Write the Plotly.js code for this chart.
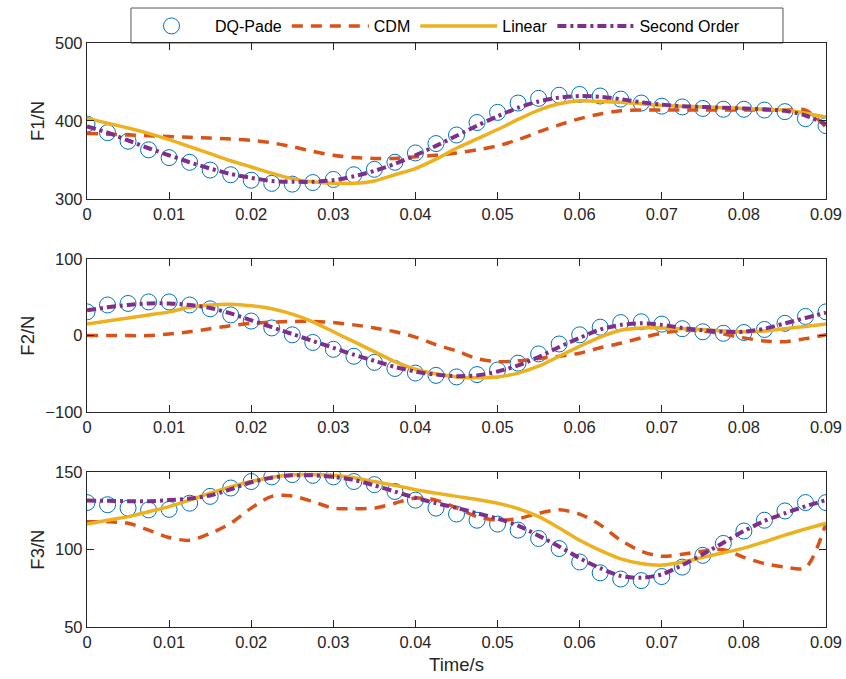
<!DOCTYPE html>
<html>
<head>
<meta charset="utf-8">
<script src="https://cdn.plot.ly/plotly-3.0.1.min.js"></script>
<style>html,body{margin:0;padding:0;background:#fff;}#chart{width:846px;height:679px;}</style>
</head>
<body>
<div id="chart"></div>
<script>
// Time samples (s)
const time = [0,0.0025,0.005,0.0075,0.01,0.0125,0.015,0.0175,0.02,0.0225,0.025,0.0275,0.03,0.0325,0.035,0.0375,0.04,0.0425,0.045,0.0475,0.05,0.0525,0.055,0.0575,0.06,0.0625,0.065,0.0675,0.07,0.0725,0.075,0.0775,0.08,0.0825,0.085,0.0875,0.09];

const seriesNames = ['DQ-Pade','CDM','Linear','Second Order'];

// F1/N
const f1DQ     = [396,385,374,363,353,347,337,331,324,320,319,321,325,331,338,347,359,371,382,398,411,423,429,433,434,432,428,423,419,418,416,415,415,414,412,403,394];
const f1CDM    = [384,383,382,381,380,379,378,377,375,372,367,361,356,353,352,352,354,356,359,363,368,376,386,395,403,409,413,414,414,414,414,414,414,414,414,414,392];
const f1Linear = [404,397,391,384,376,367,358,349,341,333,326,322,320,320,323,331,339,351,365,377,389,402,414,422,426,425,424,422,420,419,418,417,416,415,414,410,405];
const f1Second = [393,385,375,365,356,347,339,332,327,323,322,322,324,329,336,345,356,368,381,394,406,417,425,430,432,431,428,424,421,419,418,417,416,415,413,407,396];

// F2/N
const f2DQ     = [31,40,42,44,44,40,35,27,19,10,1,-9,-18,-27,-35,-43,-49,-52,-54,-51,-45,-36,-24,-11,1,11,17,18,15,9,5,3,4,8,16,25,31];
const f2CDM    = [0,0,0,0,2,5,9,13,16,17.5,18.5,18.5,17,14,10,5,-2,-12,-20,-30,-34,-33,-30,-27,-23,-16,-10,-3,3,7,6,2,-3,-7,-8,-4,1];
const f2Linear = [15,19,23,27,31,37,40,41,39,35,28,18,5,-8,-21,-34,-44,-50,-54,-55,-54,-49,-40,-27,-14,-2,7,10,10,9,8,6,5,6,9,12,15];
const f2Second = [33,37,40,42,42,40,36,29,20,11,2,-7,-16,-25,-33,-41,-47,-51,-53,-52,-47,-39,-28,-15,-3,8,14,16,14,10,7,5,5,9,16,23,30];

// F3/N
const f3DQ     = [130.4,129,126.8,125.7,126,130,134.4,139.8,144,147,148.5,148,147,144,142,137.6,132,126.8,123,119,116.5,112.6,107.2,100.7,92,85,81,80,82.6,88.7,96.3,104,112,119,125,130.4,130.4];
const f3CDM    = [118,118,117,112.6,107.8,106,110.5,117,126.8,134.4,134.7,131,126.8,126.5,126.8,130,133.3,132,127,121.3,119,120,123.5,125.7,123,116,106,99,95.7,97,99,100,95,91,88.7,88.3,117];
const f3Linear = [116.5,119,121.3,124.5,127.8,132,136.5,140.5,144,146.8,148.3,148.5,148,146.5,144,141.5,138.7,136.5,134.4,132.4,130,126.5,121.3,114,106,99.5,94,91,90,92,95,98,101,105,109.4,113.3,117];
const f3Second = [131.7,131.5,131.3,131.2,132,133,135,139,143.5,146.5,148,148,147,145,141.5,137.5,133.5,130,127,123.5,120,115.5,109,102,94.5,88,83,81.8,84,90,97,104.5,112,118.5,123.5,128,132];

const xTickVals = [0,0.01,0.02,0.03,0.04,0.05,0.06,0.07,0.08,0.09];
const xTickText = ['0','0.01','0.02','0.03','0.04','0.05','0.06','0.07','0.08','0.09'];

const panels = [
  {dq:f1DQ, cdm:f1CDM, lin:f1Linear, so:f1Second, xa:'x',  ya:'y'},
  {dq:f2DQ, cdm:f2CDM, lin:f2Linear, so:f2Second, xa:'x2', ya:'y2'},
  {dq:f3DQ, cdm:f3CDM, lin:f3Linear, so:f3Second, xa:'x3', ya:'y3'}
];

const traces = [];
panels.forEach((p, i) => {
  const show = i === 0;
  traces.push({x:time, y:p.dq, xaxis:p.xa, yaxis:p.ya, name:seriesNames[0], mode:'markers', showlegend:show, legendgroup:'a',
    marker:{symbol:'circle-open', size:16, color:'#0072BD', line:{width:1, color:'#0072BD'}}});
  traces.push({x:time, y:p.cdm, xaxis:p.xa, yaxis:p.ya, name:seriesNames[1], mode:'lines', showlegend:show, legendgroup:'b',
    line:{color:'#D95319', width:3.5, dash:'11px,8px', shape:'spline', smoothing:0.8}});
  traces.push({x:time, y:p.lin, xaxis:p.xa, yaxis:p.ya, name:seriesNames[2], mode:'lines', showlegend:show, legendgroup:'c',
    line:{color:'#EDB120', width:3.5, shape:'spline', smoothing:0.8}});
  traces.push({x:time, y:p.so, xaxis:p.xa, yaxis:p.ya, name:seriesNames[3], mode:'lines', showlegend:show, legendgroup:'d',
    line:{color:'#7E2F8E', width:4, dash:'9px,4px,3px,4px', shape:'spline', smoothing:0.8}});
});

const font = {family:'"Liberation Sans", Arial, sans-serif', size:16, color:'#262626'};
function xax(anchor, title) {
  const a = {anchor:anchor, domain:[0,1], range:[0,0.09], tickvals:xTickVals, ticktext:xTickText,
    ticks:'inside', ticklen:7, tickcolor:'#262626', showline:true, linecolor:'#262626', linewidth:1.2,
    mirror:'ticks', showgrid:false, zeroline:false, tickfont:{size:16.5}};
  if (title) a.title = {text:title, font:{size:18.5}, standoff:8};
  return a;
}
function yax(anchor, domain, range, dtick, title) {
  return {anchor:anchor, domain:domain, range:range, dtick:dtick, tick0:range[0],
    ticks:'inside', ticklen:7, tickcolor:'#262626', showline:true, linecolor:'#262626', linewidth:1.2,
    mirror:'ticks', showgrid:false, zeroline:false, tickfont:{size:16.5},
    title:{text:title, font:{size:18.5}, standoff:5}};
}

const layout = {
  width:846, height:679,
  margin:{l:87, r:20, t:43, b:52, autoexpand:false},
  paper_bgcolor:'#fff', plot_bgcolor:'#fff',
  font:font,
  showlegend:true,
  legend:{orientation:'h', x:0.0555, xanchor:'left', y:1.0, yanchor:'bottom',
    bgcolor:'rgba(0,0,0,0)', borderwidth:0, font:{size:16, color:'#000'},
    itemwidth:77},
  // legend frame
  shapes:[{type:'rect', xref:'paper', yref:'paper', x0:0.0595, x1:0.9418, y0:1.0, y1:1.0599,
    line:{color:'#555', width:1}, fillcolor:'rgba(0,0,0,0)', layer:'below'}],
  xaxis:xax('y'), yaxis:yax('x',[0.733,1],[300,500],100,'F1/N'),
  xaxis2:xax('y2'), yaxis2:yax('x2',[0.368,0.630],[-100,100],100,'F2/N'),
  xaxis3:xax('y3','Time/s'), yaxis3:yax('x3',[0,0.265],[50,150],50,'F3/N')
};

Plotly.newPlot('chart', traces, layout, {displayModeBar:false, staticPlot:true});
</script>
</body>
</html>
